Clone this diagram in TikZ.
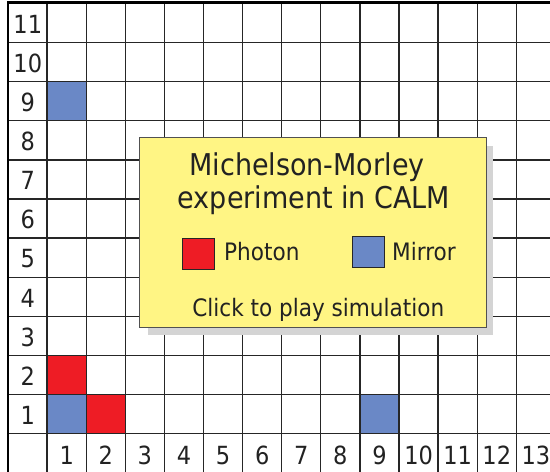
\documentclass[tikz,border=0pt]{standalone}
\usepackage{fontspec}
\setmainfont{DejaVu Sans Condensed}
\definecolor{gridc}{HTML}{262626}
\definecolor{mirrorc}{HTML}{6A88C6}
\definecolor{photonc}{HTML}{EE1C25}
\definecolor{notec}{HTML}{FFF584}
\definecolor{shadowc}{HTML}{D4D4D4}
\definecolor{textc}{HTML}{222222}
\begin{document}
\begin{tikzpicture}[x=1pt,y=-1pt,
  gridline/.style={draw=gridc,line width=1.3pt},
  border/.style={draw=black,line width=2.6pt},
  cellbox/.style={draw=gridc,line width=1.3pt},
  axislabel/.style={inner sep=0pt,text=textc,font=\fontsize{25}{28}\selectfont},
  notebox/.style={draw=gridc!80,line width=1pt,fill=notec},
  titletext/.style={inner sep=0pt,anchor=base,text=textc,font=\fontsize{30}{34}\selectfont},
  legendtext/.style={inner sep=0pt,anchor=base west,text=textc,font=\fontsize{24}{28}\selectfont},
  swatch/.style={draw=gridc,line width=1pt}]
\useasboundingbox (0,0) rectangle (550,472);
\clip (0,0) rectangle (550,472);
\fill[white] (0,0) rectangle (550,472);
% grid
\foreach \i in {1,...,14} \draw[gridline] ({8+\i*39.1},3) -- ({8+\i*39.1},473);
\foreach \j in {1,...,12} \draw[gridline] (8,{3.5+\j*39.1}) -- (552,{3.5+\j*39.1});
% coloured cells
\filldraw[cellbox,fill=mirrorc] ({8+1*39.1},{3.5+2*39.1}) rectangle ++(39.1,39.1);
\filldraw[cellbox,fill=photonc] ({8+1*39.1},{3.5+9*39.1}) rectangle ++(39.1,39.1);
\filldraw[cellbox,fill=mirrorc] ({8+1*39.1},{3.5+10*39.1}) rectangle ++(39.1,39.1);
\filldraw[cellbox,fill=photonc] ({8+2*39.1},{3.5+10*39.1}) rectangle ++(39.1,39.1);
\filldraw[cellbox,fill=mirrorc] ({8+9*39.1},{3.5+10*39.1}) rectangle ++(39.1,39.1);
% borders
\draw[border] (8,473) -- (8,2.5) -- (552,2.5);
% axis labels
\foreach \r in {1,...,11} \node[axislabel] (ylab\r) at (27.8,{3.5+(11-\r)*39.1+20.8}) {\r};
\foreach \c in {1,...,13} \node[axislabel] (xlab\c) at ({8+\c*39.1+19.6},{3.5+11*39.1+21.8}) {\c};
% note box
\fill[shadowc] (148,146) rectangle (493,335);
\node[notebox,minimum width=346.7pt,minimum height=190pt,inner sep=0pt] (note) at (313.3,232.3) {};
\node[titletext] (title1) at (307,175) {Michelson-Morley};
\node[titletext] (title2) at (314,208) {experiment in CALM};
\node[swatch,fill=photonc,minimum width=32pt,minimum height=31pt,inner sep=0pt] (photonbox) at (198.3,253.8) {};
\node[legendtext] (photonlab) at (224,260) {Photon};
\node[swatch,fill=mirrorc,minimum width=31.7pt,minimum height=31.3pt,inner sep=0pt] (mirrorbox) at (368.2,252.3) {};
\node[legendtext] (mirrorlab) at (392,260) {Mirror};
\node[inner sep=0pt,anchor=base,text=textc,font=\fontsize{24}{28}\selectfont] (click) at (318.3,316.7) {Click to play simulation};
\end{tikzpicture}
\end{document}
